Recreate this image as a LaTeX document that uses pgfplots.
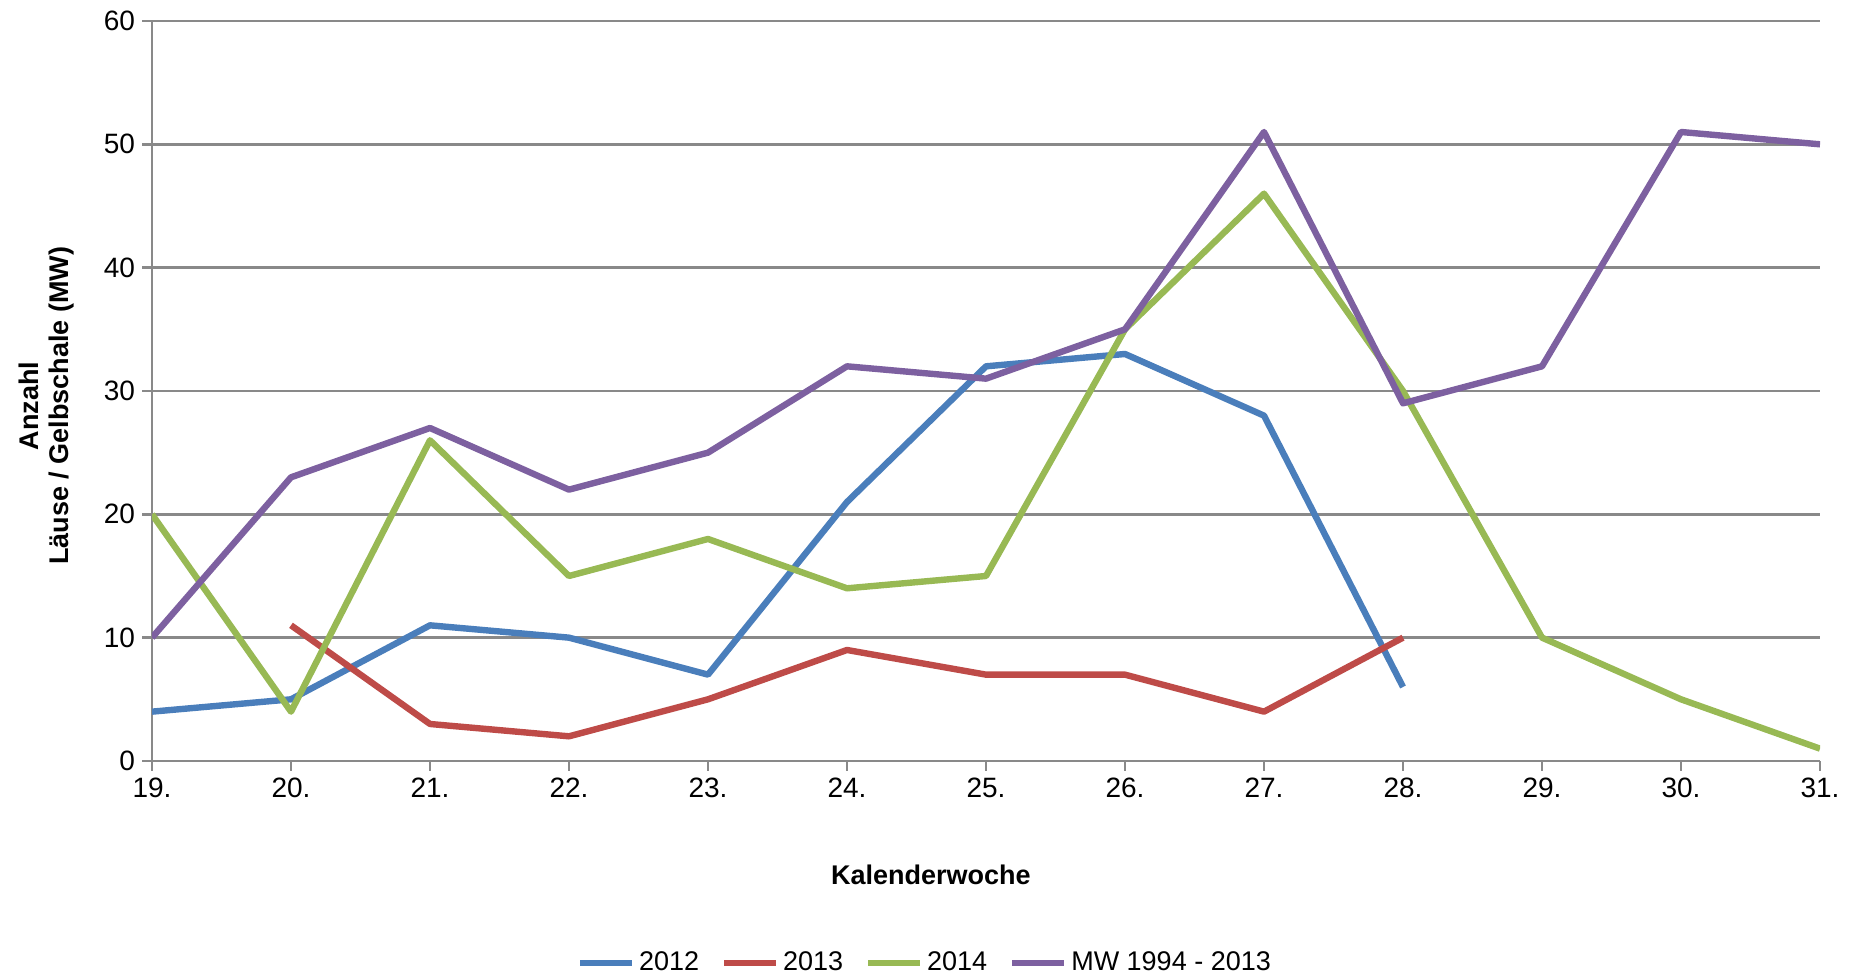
\documentclass[border=0pt]{standalone}
\usepackage{fontspec}
\setmainfont{Liberation Sans}
\usepackage{pgfplots}
\pgfplotsset{compat=1.18}

\definecolor{c2012}{HTML}{4A7EBB}
\definecolor{c2013}{HTML}{BE4B48}
\definecolor{c2014}{HTML}{98B954}
\definecolor{cmw}{HTML}{7D60A0}
\definecolor{gridgray}{HTML}{898989}

\begin{document}
\begin{tikzpicture}
\begin{axis}[
    name=ax,
    scale only axis,
    width=834pt, height=370pt,
    xmin=19, xmax=31, ymin=0, ymax=60,
    xtick={19,...,31},
    xticklabels={19.,20.,21.,22.,23.,24.,25.,26.,27.,28.,29.,30.,31.},
    ytick={0,10,...,60},
    axis x line*=bottom, axis y line*=left,
    axis line style={gridgray, line width=1.2pt},
    tick style={gridgray, line width=1.2pt},
    tick align=outside, major tick length=5pt,
    ymajorgrids,
    major grid style={gridgray, line width=1.2pt},
    ticklabel style={font=\fontsize{14}{16}\selectfont},
    /pgf/number format/assume math mode=true,
    xlabel={\textbf{Kalenderwoche}},
    xlabel style={at={(axis description cs:0.467,-0.154)}, anchor=center, font=\fontsize{13.5}{15}\selectfont},
    ylabel={\textbf{Anzahl}\\\textbf{Läuse / Gelbschale (MW)}},
    ylabel style={at={(axis description cs:-0.063,0.48)}, anchor=center, align=center, font=\fontsize{13.5}{15}\selectfont},
    legend columns=-1,
    legend style={at={(0.464,-0.273)}, anchor=center, draw=none,
        font=\fontsize{13.5}{16}\selectfont,
        /tikz/every even column/.append style={column sep=9pt}},
    legend image code/.code={\draw[#1, line width=3pt] (0pt,0pt) -- (26pt,0pt);},
    every axis plot/.append style={line width=3.2pt, line join=round, no markers},
]
\addplot[c2012] coordinates {(19,4) (20,5) (21,11) (22,10) (23,7) (24,21) (25,32) (26,33) (27,28) (28,6)};
\addplot[c2013] coordinates {(20,11) (21,3) (22,2) (23,5) (24,9) (25,7) (26,7) (27,4) (28,10)};
\addplot[c2014] coordinates {(19,20) (20,4) (21,26) (22,15) (23,18) (24,14) (25,15) (26,35) (27,46) (28,30) (29,10) (30,5) (31,1)};
\addplot[cmw] coordinates {(19,10) (20,23) (21,27) (22,22) (23,25) (24,32) (25,31) (26,35) (27,51) (28,29) (29,32) (30,51) (31,50)};
\legend{2012, 2013, 2014, MW 1994 - 2013}
\end{axis}
\pgfresetboundingbox
\path (ax.south west) ++(-76pt,-106.5pt) coordinate (bl);
\path (ax.north east) ++(18pt,10.5pt) coordinate (tr);
\path[use as bounding box] (bl) rectangle (tr);
\end{tikzpicture}
\end{document}
